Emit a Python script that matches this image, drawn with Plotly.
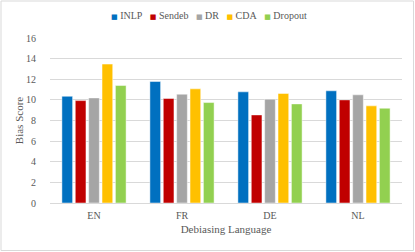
import plotly.graph_objects as go

categories = ["EN", "FR", "DE", "NL"]
inlp = [10.35, 11.78, 10.78, 10.88]
sendeb = [9.93, 10.13, 8.54, 10.0]
dr = [10.19, 10.55, 10.07, 10.49]
cda = [13.47, 11.07, 10.62, 9.42]
dropout = [11.39, 9.74, 9.61, 9.19]

series = [("INLP", inlp, "#0070C0"), ("Sendeb", sendeb, "#C00000"),
          ("DR", dr, "#A5A5A5"), ("CDA", cda, "#FFC000"), ("Dropout", dropout, "#92D050")]

fig = go.Figure()
for name, vals, col in series:
    fig.add_trace(go.Bar(x=categories, y=vals, name=name, showlegend=False,
                         marker=dict(color=col, line=dict(color="rgba(255,255,255,0.6)", width=0.8))))

W, H = 415, 252
ml, mr, mt, mb = 50, 13, 38, 49
pw = W - ml - mr
ph = H - mt - mb

font = "Liberation Serif"
legend_text = "&nbsp;&nbsp;&nbsp;".join(
    f'<span style="color:{col}; font-family:DejaVu Sans; font-size:7px">■</span> {name}'
    for name, _, col in series)

fig.update_layout(
    width=W, height=H,
    margin=dict(l=ml, r=mr, t=mt, b=mb),
    paper_bgcolor="white", plot_bgcolor="white",
    barmode="group", bargap=0.24, bargroupgap=0.2,
    font=dict(family=font, size=10, color="#595959"),
    xaxis=dict(showgrid=False, showline=True, linecolor="#D9D9D9", linewidth=1, ticks="",
               automargin=False,
               tickfont=dict(family=font, size=10, color="#595959"), ticklabelstandoff=3,
               title=dict(text="Debiasing Language", font=dict(family=font, size=11, color="#595959"), standoff=5)),
    yaxis=dict(range=[0, 16], dtick=2, showgrid=True, gridcolor="#D9D9D9", gridwidth=1,
               automargin=False,
               zeroline=False, showline=False, ticks="", ticklabelstandoff=13,
               tickfont=dict(family=font, size=10, color="#595959"),
               title=dict(text="Bias Score", font=dict(family=font, size=11, color="#595959"), standoff=0)),
    annotations=[dict(text=legend_text, xref="paper", yref="paper", x=(209 - ml) / pw,
                      y=(ph + mt - 15) / ph, xanchor="center", yanchor="middle", showarrow=False,
                      font=dict(family=font, size=10, color="#595959"))],
    shapes=[dict(type="rect", xref="paper", yref="paper",
                 x0=(1 - ml) / pw, x1=(W - 1.5 - ml) / pw,
                 y0=(ph + mt - (H - 1.5)) / ph, y1=(ph + mt - 1) / ph,
                 line=dict(color="#D9D9D9", width=1), layer="below")],
)
fig.write_html("out.html", config={"displayModeBar": False},
               post_script="document.body.style.margin='0';")
